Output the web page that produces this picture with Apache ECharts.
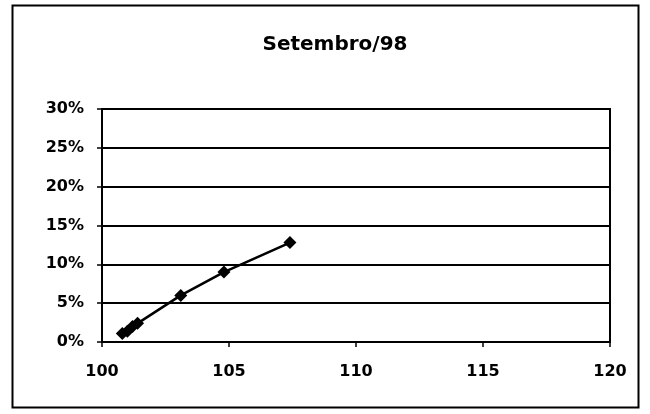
<!DOCTYPE html>
<html><head><meta charset="utf-8">
<script src="https://cdn.jsdelivr.net/npm/echarts@6/dist/echarts.min.js"></script>
<style>html,body{margin:0;padding:0;background:#fff}#c{width:650px;height:414px}</style>
</head><body><div id="c"></div>
<script>
var title = 'Setembro/98';
var xValues = [100.8, 101.0, 101.2, 101.4, 103.1, 104.8, 107.4];
var yValues = [1.1, 1.4, 2.0, 2.4, 6.0, 9.0, 12.8];
var xTicks = [100, 105, 110, 115, 120];
var yTicks = [0, 5, 10, 15, 20, 25, 30];

var chart = echarts.init(document.getElementById('c'));
var pts = xValues.map(function(x, i){ return [x, yValues[i]]; });
var font = 'DejaVu Sans, sans-serif';
chart.setOption({
  animation: false,
  backgroundColor: '#fff',
  title: { text: title, left: 330, top: 30, textAlign: 'center',
    textStyle: { fontFamily: font, fontWeight: 'bold', fontSize: 20, color: '#000' } },
  graphic: [{ type: 'rect', shape: { x: 12.5, y: 5.5, width: 626, height: 402 },
    style: { fill: 'none', stroke: '#000', lineWidth: 2 }, silent: true }],
  grid: { left: 102, right: 40, top: 109, bottom: 72, show: true, borderColor: '#000', borderWidth: 2 },
  xAxis: { type: 'value', min: xTicks[0], max: xTicks[xTicks.length-1], interval: 5,
    axisLine: { lineStyle: { color: '#000', width: 2 } },
    axisTick: { show: true, length: 5, lineStyle: { color: '#000', width: 1.5 } },
    splitLine: { show: false },
    axisLabel: { margin: 22, fontFamily: font, fontWeight: 'bold', fontSize: 16, color: '#000' } },
  yAxis: { type: 'value', min: yTicks[0], max: yTicks[yTicks.length-1], interval: 5,
    axisLine: { show: true, lineStyle: { color: '#000', width: 2 } },
    axisTick: { show: true, length: 5, lineStyle: { color: '#000', width: 1.5 } },
    splitLine: { show: true, lineStyle: { color: '#000', width: 2 } },
    axisLabel: { margin: 18, fontFamily: font, fontWeight: 'bold', fontSize: 16, color: '#000',
      formatter: function(v){ return v + '%'; } } },
  series: [{ type: 'line', data: pts, symbol: 'diamond', symbolSize: 13,
    lineStyle: { color: '#000', width: 2.5 }, itemStyle: { color: '#000' } }]
});
</script></body></html>
